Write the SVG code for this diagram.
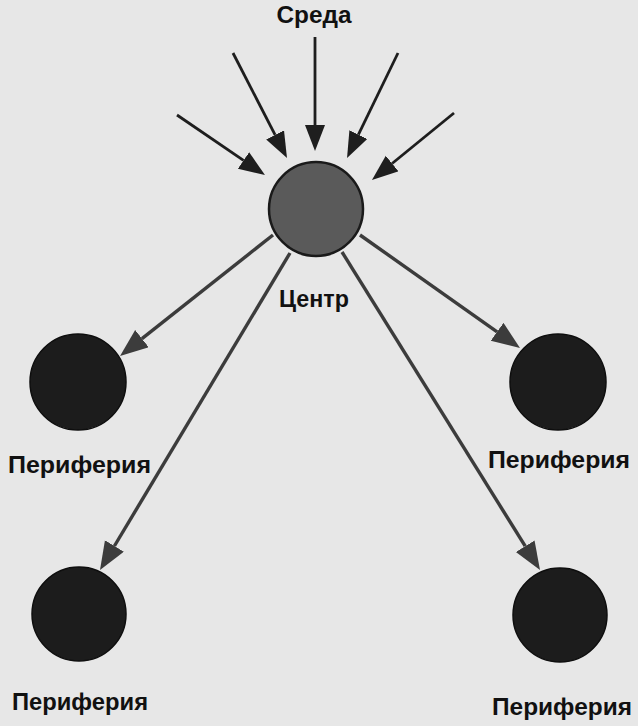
<svg xmlns="http://www.w3.org/2000/svg" width="638" height="726" viewBox="0 0 638 726">
<style>
.lbl{font-family:"Liberation Sans",Arial,sans-serif;font-weight:bold;font-size:23px;fill:#111}
.in{stroke:#1e1e1e;stroke-width:2.8;fill:none}
.out{stroke:#3c3c3c;stroke-width:3.4;fill:none}
.peri{fill:#1c1c1c;stroke:#0e0e0e;stroke-width:1.5}
.ctr{fill:#5a5a5a;stroke:#1a1a1a;stroke-width:2.5}
</style>
<defs>
<marker id="hin" markerUnits="userSpaceOnUse" markerWidth="28" markerHeight="22" refX="0" refY="10" orient="auto">
<path d="M0,0 L26,10 L0,20 Z" fill="#1e1e1e"/>
</marker>
<marker id="hout" markerUnits="userSpaceOnUse" markerWidth="30" markerHeight="24" refX="0" refY="11" orient="auto">
<path d="M0,0 L28,11 L0,22 Z" fill="#3c3c3c"/>
</marker>
</defs>
<rect width="638" height="726" fill="#e7e7e7"/>
<g id="connectors">
<line class="in" x1="177" y1="115" x2="243.5" y2="160.4" marker-end="url(#hin)"/>
<line class="in" x1="233" y1="53" x2="275.1" y2="134.9" marker-end="url(#hin)"/>
<line class="in" x1="315" y1="37" x2="315" y2="125" marker-end="url(#hin)"/>
<line class="in" x1="398" y1="53" x2="358.4" y2="134.6" marker-end="url(#hin)"/>
<line class="in" x1="454" y1="113" x2="392.1" y2="163.5" marker-end="url(#hin)"/>
<line class="out" x1="273" y1="235" x2="142" y2="338.6" marker-end="url(#hout)"/>
<line class="out" x1="290" y1="253" x2="114.4" y2="546" marker-end="url(#hout)"/>
<line class="out" x1="360" y1="235" x2="497.1" y2="331.8" marker-end="url(#hout)"/>
<line class="out" x1="342" y1="252" x2="525.2" y2="546.2" marker-end="url(#hout)"/>
</g>
<g id="env"><text class="lbl" x="314" y="23" text-anchor="middle" textLength="75" lengthAdjust="spacingAndGlyphs">Среда</text></g>
<g id="center">
<circle class="ctr" cx="316" cy="209" r="47"/>
<text class="lbl" x="314" y="307" text-anchor="middle" textLength="70" lengthAdjust="spacingAndGlyphs">Центр</text>
</g>
<g id="periphery-tl">
<circle class="peri" cx="78" cy="382" r="48"/>
<text class="lbl" x="8" y="473" textLength="143" lengthAdjust="spacingAndGlyphs">Периферия</text>
</g>
<g id="periphery-tr">
<circle class="peri" cx="558" cy="382" r="48"/>
<text class="lbl" x="488" y="468" textLength="142" lengthAdjust="spacingAndGlyphs">Периферия</text>
</g>
<g id="periphery-bl">
<circle class="peri" cx="79" cy="614" r="47"/>
<text class="lbl" x="12" y="710" textLength="136" lengthAdjust="spacingAndGlyphs">Периферия</text>
</g>
<g id="periphery-br">
<circle class="peri" cx="560" cy="615" r="47"/>
<text class="lbl" x="492" y="715" textLength="140" lengthAdjust="spacingAndGlyphs">Периферия</text>
</g>
</svg>
